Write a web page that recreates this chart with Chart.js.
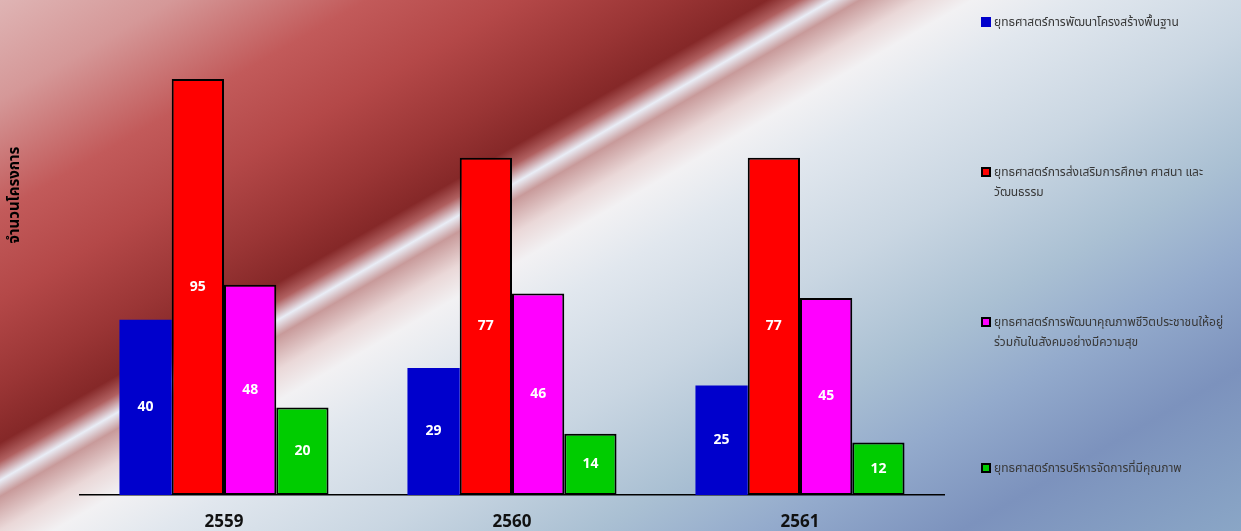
<!DOCTYPE html>
<html>

<head>
  <meta charset="utf-8">
  <title>Chart.js Example</title>
  <script src="https://cdn.jsdelivr.net/npm/chart.js"></script>
  <style>
    html, body { margin: 0; padding: 0; }
    body {
      width: 1241px;
      height: 531px;
      overflow: hidden;
      position: relative;
    }
    #bg {
      position: absolute; left: 0; top: 0; width: 1241px; height: 531px;
      background: linear-gradient(150deg,
        #dfb4b4 0%, #d59898 8%, #c25a5a 17%, #b44848 24%, #9a3535 31%, #852828 35.5%,
        #b06060 37%, #e9edf6 38.5%, #c89a9a 39.8%, #ead8d8 42.5%, #f2f1f3 45%,
        #e1e7ee 50%, #c9d6e2 60%, #aac0d3 70%, #93aacc 78%, #7c92bd 87%, #8aa6c6 100%);
    }
    #wrap { position: absolute; left: 0; top: 0; width: 1241px; height: 531px; }
    .item {
      position: absolute;
      left: 981px;
      width: 258px;
      font-family: Tahoma, "Noto Sans Thai", "Noto Sans", sans-serif;
      font-size: 12px;
      line-height: 20px;
      color: #383838;
      padding-left: 13px;
      white-space: nowrap;
    }
    .item span.box {
      position: absolute;
      left: 0;
      top: 5px;
      width: 10px;
      height: 10px;
      box-sizing: border-box;
    }
  </style>
</head>

<body>
  <div id="bg"></div>
  <div id="wrap"><canvas id="myChart"></canvas></div>
  <div id="legend"></div>
  <script>

    let years = ['2559', '2560', '2561'];
    let seriesNames = [
      ['ยุทธศาสตร์การพัฒนาโครงสร้างพื้นฐาน'],
      ['ยุทธศาสตร์การส่งเสริมการศึกษา ศาสนา และ', 'วัฒนธรรม'],
      ['ยุทธศาสตร์การพัฒนาคุณภาพชีวิตประชาชนให้อยู่', 'ร่วมกันในสังคมอย่างมีความสุข'],
      ['ยุทธศาสตร์การบริหารจัดการที่มีคุณภาพ']
    ];
    let infrastructure = [40, 29, 25];
    let education = [95, 77, 77];
    let quality = [48, 46, 45];
    let management = [20, 14, 12];
    let yTitle = 'จำนวนโครงการ';

    let colors = ['#0000cc', '#ff0000', '#ff00ff', '#00cc00'];
    let borders = [0, 2, 2, 2];
    let legendTops = [12, 162, 312, 458];

    let values = [infrastructure, education, quality, management];

    // html legend on the right
    let legend = document.getElementById('legend');
    seriesNames.forEach((lines, i) => {
      let div = document.createElement('div');
      div.className = 'item';
      div.style.top = legendTops[i] + 'px';
      let box = document.createElement('span');
      box.className = 'box';
      box.style.background = colors[i];
      if (borders[i]) box.style.border = '2px solid #000';
      div.appendChild(box);
      lines.forEach((line, k) => {
        if (k > 0) div.appendChild(document.createElement('br'));
        div.appendChild(document.createTextNode(line));
      });
      legend.appendChild(div);
    });

    // white numbers in the middle of each bar
    let barLabels = {
      id: 'barLabels',
      afterDatasetsDraw(chart) {
        let ctx = chart.ctx;
        ctx.save();
        ctx.fillStyle = '#ffffff';
        ctx.font = 'bold 14px "Open Sans", sans-serif';
        ctx.textAlign = 'center';
        ctx.textBaseline = 'middle';
        chart.data.datasets.forEach((ds, i) => {
          chart.getDatasetMeta(i).data.forEach((bar, j) => {
            let mid = (bar.y + bar.base) / 2;
            ctx.fillText(ds.data[j], bar.x, mid);
          });
        });
        ctx.restore();
      }
    };

    // rotated axis title, sits higher than the middle like the original
    let yTitlePlugin = {
      id: 'yTitlePlugin',
      afterDraw(chart) {
        let ctx = chart.ctx;
        ctx.save();
        ctx.translate(16, 195);
        ctx.rotate(-Math.PI / 2);
        ctx.fillStyle = '#000';
        ctx.font = 'bold 15px Tahoma, "Noto Sans Thai", "Noto Sans", sans-serif';
        ctx.textAlign = 'center';
        ctx.textBaseline = 'middle';
        ctx.fillText(yTitle, 0, 0);
        ctx.restore();
      }
    };

    let ctx = document.getElementById('myChart').getContext('2d');
    let myChart = new Chart(ctx, {
      type: 'bar',
      data: {
        labels: years,
        datasets: seriesNames.map((lines, i) => ({
          label: lines.join(''),
          data: values[i],
          backgroundColor: colors[i],
          borderColor: '#000000',
          borderWidth: borders[i],
          borderSkipped: false,
          categoryPercentage: 0.726,
          barPercentage: 1.0
        }))
      },
      options: {
        responsive: true,
        maintainAspectRatio: false,
        animation: false,
        layout: {
          padding: { left: 80, right: 297, top: 57, bottom: 0 }
        },
        plugins: {
          legend: { display: false },
          tooltip: { enabled: false }
        },
        scales: {
          x: {
            grid: { display: false, drawTicks: false },
            border: { display: true, color: '#000000', width: 1.5 },
            ticks: {
              color: '#111111',
              padding: 17,
              font: { family: '"Open Sans", sans-serif', size: 17, weight: 'bold' }
            },
            afterFit(scale) { scale.height = 36; }
          },
          y: {
            display: false,
            min: 0,
            max: 100
          }
        }
      },
      plugins: [barLabels, yTitlePlugin]
    });

  </script>
</body>

</html>
